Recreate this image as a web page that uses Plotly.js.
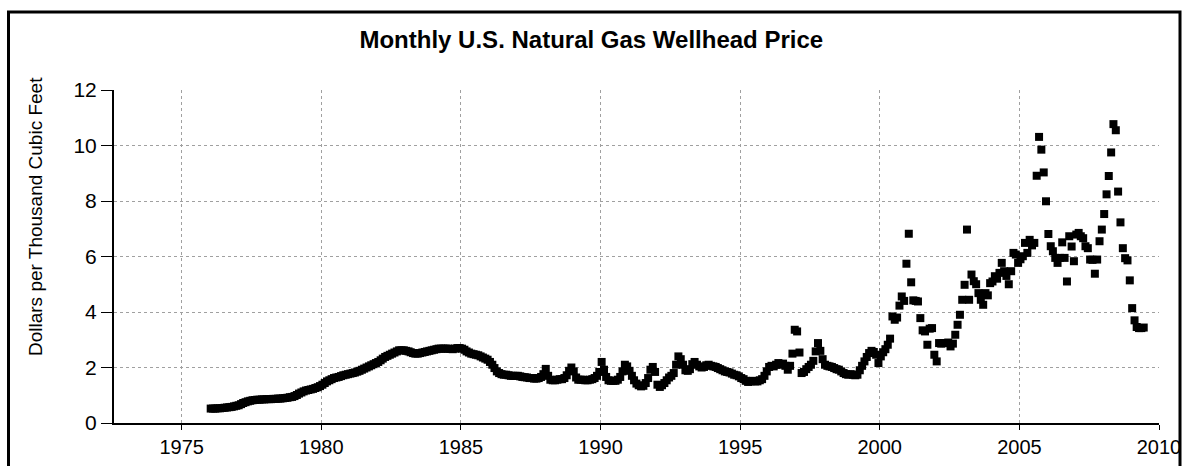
<!DOCTYPE html>
<html>
<head>
<meta charset="utf-8">
<script src="https://cdn.plot.ly/plotly-3.0.1.min.js"></script>
<style>
  html, body { margin: 0; padding: 0; background: #fff; }
  #chart { width: 1185px; height: 466px; }
</style>
</head>
<body>
<div id="chart"></div>
<script>
// Monthly U.S. natural gas wellhead price, dollars per thousand cubic feet (Jan..Dec)
const p1976 = [0.52,0.52,0.52,0.53,0.53,0.54,0.55,0.56,0.57,0.58,0.60,0.62];
const p1977 = [0.64,0.68,0.72,0.75,0.78,0.80,0.82,0.83,0.84,0.84,0.85,0.85];
const p1978 = [0.86,0.86,0.86,0.87,0.87,0.88,0.88,0.89,0.90,0.91,0.93,0.94];
const p1979 = [0.97,1.01,1.06,1.10,1.14,1.17,1.19,1.21,1.23,1.26,1.29,1.33];
const p1980 = [1.38,1.44,1.50,1.54,1.58,1.62,1.64,1.66,1.69,1.72,1.74,1.76];
const p1981 = [1.78,1.80,1.82,1.85,1.88,1.92,1.96,2.00,2.04,2.08,2.12,2.16];
const p1982 = [2.20,2.26,2.32,2.38,2.42,2.46,2.50,2.54,2.58,2.62,2.62,2.62];
const p1983 = [2.60,2.58,2.55,2.52,2.50,2.50,2.52,2.54,2.56,2.58,2.60,2.62];
const p1984 = [2.64,2.66,2.68,2.68,2.68,2.68,2.68,2.67,2.66,2.68,2.70,2.70];
const p1985 = [2.68,2.64,2.58,2.54,2.50,2.48,2.46,2.44,2.40,2.36,2.32,2.28];
const p1986 = [2.20,2.10,1.98,1.86,1.80,1.76,1.74,1.74,1.72,1.70,1.70,1.70];
const p1987 = [1.70,1.68,1.66,1.65,1.64,1.62,1.62,1.60,1.60,1.62,1.66,1.76];
const p1988 = [1.95,1.70,1.56,1.54,1.54,1.56,1.58,1.58,1.62,1.72,1.88,2.00];
const p1989 = [1.86,1.64,1.56,1.56,1.56,1.54,1.54,1.56,1.58,1.62,1.70,1.84];
const p1990 = [2.20,1.92,1.66,1.54,1.52,1.52,1.52,1.56,1.66,1.86,2.10,2.04];
const p1991 = [1.88,1.70,1.54,1.42,1.36,1.32,1.34,1.44,1.62,1.92,2.02,1.84];
const p1992 = [1.38,1.30,1.36,1.44,1.54,1.64,1.70,1.80,2.10,2.40,2.30,2.10];
const p1993 = [1.90,1.88,1.94,2.12,2.20,2.10,2.04,2.00,2.02,2.08,2.10,2.06];
const p1994 = [2.04,2.02,1.98,1.94,1.90,1.86,1.84,1.82,1.78,1.74,1.72,1.68];
const p1995 = [1.62,1.58,1.52,1.48,1.50,1.52,1.50,1.50,1.54,1.58,1.70,1.86];
const p1996 = [2.02,2.06,2.04,2.10,2.16,2.10,2.14,2.06,1.92,2.06,2.50,3.36];
const p1997 = [3.30,2.54,1.80,1.84,1.94,2.02,2.10,2.24,2.58,2.88,2.60,2.30];
const p1998 = [2.10,2.06,2.04,2.02,1.98,1.94,1.92,1.86,1.80,1.76,1.74,1.76];
const p1999 = [1.74,1.72,1.74,1.90,2.06,2.22,2.38,2.52,2.60,2.56,2.46,2.16];
const p2000 = [2.40,2.55,2.66,2.82,3.04,3.84,3.72,3.80,4.23,4.56,4.40,5.74];
const p2001 = [6.82,5.07,4.42,4.40,4.38,3.78,3.34,3.30,2.82,3.40,3.42,2.46];
const p2002 = [2.22,2.88,2.86,2.88,2.88,2.90,2.76,2.86,3.18,3.54,3.90,4.44];
const p2003 = [4.98,6.97,4.44,5.35,5.11,5.00,4.68,4.44,4.26,4.68,4.60,5.04];
const p2004 = [5.10,5.29,5.20,5.41,5.77,5.47,5.30,5.00,5.47,6.13,6.07,5.77];
const p2005 = [5.90,6.01,6.49,6.13,6.60,6.40,6.49,8.91,10.31,9.85,9.03,7.99];
const p2006 = [6.81,6.37,6.19,5.95,5.77,5.95,6.51,5.95,5.10,6.73,6.36,5.83];
const p2007 = [6.79,6.85,6.73,6.66,6.37,6.30,5.89,5.88,5.38,5.89,6.55,6.97];
const p2008 = [7.53,8.24,8.90,9.75,10.77,10.55,8.34,7.23,6.30,5.94,5.86,5.14];
const p2009 = [4.14,3.70,3.46,3.42,3.42,3.44];

const years = [1976,1977,1978,1979,1980,1981,1982,1983,1984,1985,1986,1987,1988,1989,
               1990,1991,1992,1993,1994,1995,1996,1997,1998,1999,2000,2001,2002,2003,
               2004,2005,2006,2007,2008,2009];
const prices = [p1976,p1977,p1978,p1979,p1980,p1981,p1982,p1983,p1984,p1985,p1986,p1987,
                p1988,p1989,p1990,p1991,p1992,p1993,p1994,p1995,p1996,p1997,p1998,p1999,
                p2000,p2001,p2002,p2003,p2004,p2005,p2006,p2007,p2008,p2009];

const xTickYears = [1975,1980,1985,1990,1995,2000,2005,2010];

const chartTitle = 'Monthly U.S. Natural Gas Wellhead Price';
const yTitle = 'Dollars per Thousand Cubic Feet';

// build month dates (mid-month)
const xs = [], ys = [];
years.forEach((yr, i) => {
  prices[i].forEach((v, m) => {
    const mm = String(m + 1).padStart(2, '0');
    xs.push(yr + '-' + mm + '-15');
    ys.push(v);
  });
});

const FONT = '"Liberation Sans", Arial, sans-serif';

const trace = {
  x: xs, y: ys,
  type: 'scatter', mode: 'markers',
  marker: { symbol: 'square', size: 8, color: '#000', line: { width: 0 } },
  hoverinfo: 'x+y'
};

const layout = {
  width: 1185, height: 466,
  margin: { l: 114, r: 26, t: 90, b: 43, pad: 0 },
  paper_bgcolor: '#fff', plot_bgcolor: '#fff',
  showlegend: false,
  font: { family: FONT, color: '#000', size: 20 },
  title: {
    text: '<b>' + chartTitle + '</b>',
    font: { family: FONT, size: 24, color: '#000' },
    xref: 'container', x: 0.499, xanchor: 'center',
    yref: 'container', y: 1 - 40 / 466, yanchor: 'middle'
  },
  xaxis: {
    type: 'date',
    range: ['1972-07-29', '2010-01-01'],
    tickvals: xTickYears.map(y => y + '-01-01'),
    ticktext: xTickYears.map(String),
    ticks: 'outside', ticklen: 5, tickwidth: 1, tickcolor: '#000',
    showline: true, linecolor: '#000', linewidth: 2,
    showgrid: true, gridcolor: '#a0a0a0', gridwidth: 1, griddash: '3px,3px',
    zeroline: false,
    tickfont: { family: FONT, size: 20, color: '#000' }
  },
  yaxis: {
    range: [0, 12],
    tickvals: [0, 2, 4, 6, 8, 10, 12],
    ticks: 'outside', ticklen: 11, tickwidth: 1, tickcolor: '#000',
    showline: true, linecolor: '#000', linewidth: 2,
    showgrid: true, gridcolor: '#a0a0a0', gridwidth: 1, griddash: '3px,3px',
    zeroline: false,
    tickfont: { family: FONT, size: 21, color: '#000' }
  },
  annotations: [{
    text: yTitle, textangle: -90,
    xref: 'paper', yref: 'paper',
    x: (35 - 114) / 1045, y: (423 - 217) / 333,
    xanchor: 'center', yanchor: 'middle', showarrow: false,
    font: { family: FONT, size: 19, color: '#000' }
  }],
  shapes: [{
    type: 'rect', xref: 'paper', yref: 'paper',
    x0: (8.5 - 114) / 1045, x1: (1180 - 114) / 1045,
    y0: (423 - 520) / 333, y1: (423 - 12) / 333,
    line: { color: '#000', width: 3 }, fillcolor: 'rgba(0,0,0,0)', layer: 'above'
  }]
};

Plotly.newPlot('chart', [trace], layout, { displayModeBar: false, staticPlot: true });
</script>
</body>
</html>
